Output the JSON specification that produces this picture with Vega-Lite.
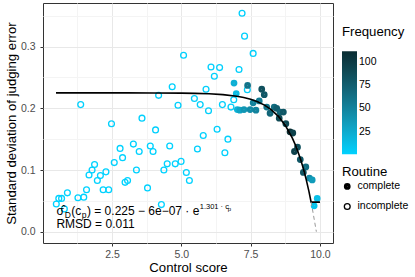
{
  "$schema": "https://vega.github.io/schema/vega-lite/v6.json",
  "width": 290,
  "height": 240,
  "autosize": {"type": "none"},
  "padding": {"left": 43, "top": 3, "right": 82, "bottom": 34},
  "background": "white",
  "config": {
    "font": "Liberation Sans",
    "view": {"stroke": "#333333", "strokeWidth": 1},
    "axis": {
      "domain": false,
      "labelFont": "Liberation Sans",
      "titleFont": "Liberation Sans",
      "labelFontSize": 10.5,
      "labelColor": "#4d4d4d",
      "titleFontSize": 13.2,
      "titleFontWeight": "normal",
      "titleColor": "black",
      "tickColor": "#333333",
      "tickSize": 3,
      "labelFlush": false,
      "labelOverlap": false
    },
    "legend": {
      "padding": 0,
      "titleFont": "Liberation Sans",
      "labelFont": "Liberation Sans",
      "titleFontSize": 13.2,
      "titleFontWeight": "normal",
      "titleColor": "black",
      "labelFontSize": 10.5,
      "labelColor": "black"
    }
  },
  "datasets": {
    "pts": [
      {"control": 1.37, "sd": 0.206, "freq": 2, "routine": "incomplete"},
      {"control": 2.48, "sd": 0.175, "freq": 2, "routine": "incomplete"},
      {"control": 3.58, "sd": 0.184, "freq": 2, "routine": "incomplete"},
      {"control": 4.07, "sd": 0.165, "freq": 2, "routine": "incomplete"},
      {"control": 4.18, "sd": 0.221, "freq": 2, "routine": "incomplete"},
      {"control": 4.67, "sd": 0.235, "freq": 2, "routine": "incomplete"},
      {"control": 4.88, "sd": 0.205, "freq": 2, "routine": "incomplete"},
      {"control": 5.08, "sd": 0.286, "freq": 2, "routine": "incomplete"},
      {"control": 5.47, "sd": 0.216, "freq": 3, "routine": "incomplete"},
      {"control": 5.68, "sd": 0.206, "freq": 3, "routine": "incomplete"},
      {"control": 5.79, "sd": 0.156, "freq": 2, "routine": "incomplete"},
      {"control": 5.89, "sd": 0.231, "freq": 3, "routine": "incomplete"},
      {"control": 5.98, "sd": 0.196, "freq": 3, "routine": "incomplete"},
      {"control": 6.07, "sd": 0.267, "freq": 2, "routine": "incomplete"},
      {"control": 6.19, "sd": 0.252, "freq": 2, "routine": "incomplete"},
      {"control": 6.38, "sd": 0.266, "freq": 2, "routine": "incomplete"},
      {"control": 7.19, "sd": 0.354, "freq": 2, "routine": "incomplete"},
      {"control": 7.28, "sd": 0.317, "freq": 2, "routine": "incomplete"},
      {"control": 7.59, "sd": 0.289, "freq": 2, "routine": "incomplete"},
      {"control": 7.08, "sd": 0.263, "freq": 3, "routine": "incomplete"},
      {"control": 7.38, "sd": 0.230, "freq": 4, "routine": "incomplete"},
      {"control": 6.89, "sd": 0.214, "freq": 4, "routine": "incomplete"},
      {"control": 6.48, "sd": 0.206, "freq": 3, "routine": "incomplete"},
      {"control": 6.79, "sd": 0.202, "freq": 4, "routine": "incomplete"},
      {"control": 6.29, "sd": 0.166, "freq": 2, "routine": "incomplete"},
      {"control": 6.68, "sd": 0.150, "freq": 2, "routine": "incomplete"},
      {"control": 6.57, "sd": 0.128, "freq": 2, "routine": "incomplete"},
      {"control": 5.58, "sd": 0.134, "freq": 2, "routine": "incomplete"},
      {"control": 3.27, "sd": 0.142, "freq": 1, "routine": "incomplete"},
      {"control": 3.88, "sd": 0.139, "freq": 1, "routine": "incomplete"},
      {"control": 4.58, "sd": 0.139, "freq": 1, "routine": "incomplete"},
      {"control": 2.79, "sd": 0.135, "freq": 1, "routine": "incomplete"},
      {"control": 3.48, "sd": 0.130, "freq": 1, "routine": "incomplete"},
      {"control": 3.98, "sd": 0.130, "freq": 1, "routine": "incomplete"},
      {"control": 2.88, "sd": 0.120, "freq": 1, "routine": "incomplete"},
      {"control": 2.58, "sd": 0.112, "freq": 1, "routine": "incomplete"},
      {"control": 1.87, "sd": 0.109, "freq": 1, "routine": "incomplete"},
      {"control": 1.78, "sd": 0.100, "freq": 1, "routine": "incomplete"},
      {"control": 1.67, "sd": 0.092, "freq": 1, "routine": "incomplete"},
      {"control": 2.08, "sd": 0.091, "freq": 1, "routine": "incomplete"},
      {"control": 1.97, "sd": 0.083, "freq": 1, "routine": "incomplete"},
      {"control": 2.28, "sd": 0.097, "freq": 1, "routine": "incomplete"},
      {"control": 3.38, "sd": 0.100, "freq": 1, "routine": "incomplete"},
      {"control": 4.37, "sd": 0.100, "freq": 1, "routine": "incomplete"},
      {"control": 4.49, "sd": 0.110, "freq": 1, "routine": "incomplete"},
      {"control": 4.78, "sd": 0.110, "freq": 1, "routine": "incomplete"},
      {"control": 4.99, "sd": 0.114, "freq": 1, "routine": "incomplete"},
      {"control": 5.18, "sd": 0.096, "freq": 1, "routine": "incomplete"},
      {"control": 5.29, "sd": 0.083, "freq": 1, "routine": "incomplete"},
      {"control": 3.06, "sd": 0.083, "freq": 1, "routine": "incomplete"},
      {"control": 2.97, "sd": 0.080, "freq": 1, "routine": "incomplete"},
      {"control": 2.18, "sd": 0.068, "freq": 1, "routine": "incomplete"},
      {"control": 2.38, "sd": 0.068, "freq": 1, "routine": "incomplete"},
      {"control": 3.78, "sd": 0.071, "freq": 1, "routine": "incomplete"},
      {"control": 1.58, "sd": 0.068, "freq": 1, "routine": "incomplete"},
      {"control": 1.48, "sd": 0.056, "freq": 1, "routine": "incomplete"},
      {"control": 1.27, "sd": 0.055, "freq": 1, "routine": "incomplete"},
      {"control": 0.89, "sd": 0.063, "freq": 1, "routine": "incomplete"},
      {"control": 0.49, "sd": 0.045, "freq": 1, "routine": "incomplete"},
      {"control": 0.58, "sd": 0.054, "freq": 1, "routine": "incomplete"},
      {"control": 0.68, "sd": 0.054, "freq": 1, "routine": "incomplete"},
      {"control": 0.78, "sd": 0.037, "freq": 1, "routine": "incomplete"},
      {"control": 4.28, "sd": 0.044, "freq": 1, "routine": "incomplete"},
      {"control": 6.90, "sd": 0.241, "freq": 22, "routine": "complete"},
      {"control": 7.39, "sd": 0.237, "freq": 60, "routine": "complete"},
      {"control": 6.98, "sd": 0.224, "freq": 15, "routine": "complete"},
      {"control": 7.02, "sd": 0.198, "freq": 20, "routine": "complete"},
      {"control": 7.11, "sd": 0.197, "freq": 30, "routine": "complete"},
      {"control": 7.26, "sd": 0.198, "freq": 38, "routine": "complete"},
      {"control": 7.48, "sd": 0.198, "freq": 45, "routine": "complete"},
      {"control": 7.69, "sd": 0.197, "freq": 50, "routine": "complete"},
      {"control": 7.59, "sd": 0.209, "freq": 50, "routine": "complete"},
      {"control": 7.81, "sd": 0.212, "freq": 55, "routine": "complete"},
      {"control": 7.90, "sd": 0.231, "freq": 85, "routine": "complete"},
      {"control": 7.99, "sd": 0.222, "freq": 80, "routine": "complete"},
      {"control": 8.08, "sd": 0.202, "freq": 60, "routine": "complete"},
      {"control": 8.20, "sd": 0.192, "freq": 70, "routine": "complete"},
      {"control": 8.35, "sd": 0.202, "freq": 65, "routine": "complete"},
      {"control": 8.44, "sd": 0.200, "freq": 75, "routine": "complete"},
      {"control": 8.56, "sd": 0.194, "freq": 70, "routine": "complete"},
      {"control": 8.68, "sd": 0.194, "freq": 80, "routine": "complete"},
      {"control": 8.53, "sd": 0.184, "freq": 90, "routine": "complete"},
      {"control": 8.77, "sd": 0.175, "freq": 90, "routine": "complete"},
      {"control": 8.92, "sd": 0.162, "freq": 111, "routine": "complete"},
      {"control": 9.02, "sd": 0.160, "freq": 95, "routine": "complete"},
      {"control": 9.19, "sd": 0.137, "freq": 85, "routine": "complete"},
      {"control": 9.08, "sd": 0.130, "freq": 95, "routine": "complete"},
      {"control": 9.29, "sd": 0.117, "freq": 80, "routine": "complete"},
      {"control": 9.49, "sd": 0.105, "freq": 65, "routine": "complete"},
      {"control": 9.40, "sd": 0.096, "freq": 80, "routine": "complete"},
      {"control": 9.62, "sd": 0.087, "freq": 45, "routine": "complete"},
      {"control": 9.72, "sd": 0.084, "freq": 35, "routine": "complete"},
      {"control": 9.90, "sd": 0.054, "freq": 12, "routine": "complete"},
      {"control": 9.79, "sd": 0.042, "freq": 10, "routine": "complete"}
    ],
    "fit": [
      {"control": 0.48, "sd": 0.225},
      {"control": 1, "sd": 0.225},
      {"control": 2, "sd": 0.225},
      {"control": 3, "sd": 0.22497},
      {"control": 4, "sd": 0.22489},
      {"control": 5, "sd": 0.2246},
      {"control": 5.5, "sd": 0.2242},
      {"control": 6, "sd": 0.2235},
      {"control": 6.5, "sd": 0.2222},
      {"control": 7, "sd": 0.2196},
      {"control": 7.25, "sd": 0.2175},
      {"control": 7.5, "sd": 0.2146},
      {"control": 7.75, "sd": 0.2107},
      {"control": 8, "sd": 0.2052},
      {"control": 8.25, "sd": 0.1975},
      {"control": 8.5, "sd": 0.187},
      {"control": 8.75, "sd": 0.1723},
      {"control": 9, "sd": 0.1521},
      {"control": 9.1, "sd": 0.142},
      {"control": 9.2, "sd": 0.1304},
      {"control": 9.3, "sd": 0.1173},
      {"control": 9.4, "sd": 0.1024},
      {"control": 9.5, "sd": 0.0853},
      {"control": 9.6, "sd": 0.0659},
      {"control": 9.68, "sd": 0.048},
      {"control": 10.0, "sd": 0.048}
    ],
    "ext": [
      {"control": 9.68, "sd": 0.048},
      {"control": 9.75, "sd": 0.031},
      {"control": 9.8, "sd": 0.018},
      {"control": 9.87, "sd": 0.0}
    ],
    "notes": [
      {"control": 0.495, "sd": 0.027, "line": "formula"},
      {"control": 0.495, "sd": 0.0055, "line": "rmsd"}
    ]
  },
  "encoding": {
    "x": {
      "field": "control", "type": "quantitative",
      "scale": {"domain": [0.01, 10.47], "nice": false, "zero": false},
      "axis": {
        "title": "Control score",
        "values": [1.25, 2.5, 3.75, 5, 6.25, 7.5, 8.75, 10],
        "labelExpr": "datum.value % 2.5 === 0 ? format(datum.value, '.1f') : ''",
        "gridColor": {"condition": {"test": "datum.value % 2.5 !== 0", "value": "#f4f4f4"}, "value": "#e8e8e8"},
        "tickOpacity": {"condition": {"test": "datum.value % 2.5 !== 0", "value": 0}, "value": 1},
        "labelPadding": 3,
        "titlePadding": 2
      }
    },
    "y": {
      "field": "sd", "type": "quantitative",
      "scale": {"domain": [-0.0183, 0.3707], "nice": false, "zero": false},
      "axis": {
        "title": "Standard deviation of judging error",
        "values": [0, 0.05, 0.1, 0.15, 0.2, 0.25, 0.3, 0.35],
        "labelExpr": "abs(datum.value * 10 - round(datum.value * 10)) < 0.001 ? format(datum.value, '.1f') : ''",
        "gridColor": {"condition": {"test": "abs(datum.value * 10 - round(datum.value * 10)) > 0.001", "value": "#f4f4f4"}, "value": "#e8e8e8"},
        "tickOpacity": {"condition": {"test": "abs(datum.value * 10 - round(datum.value * 10)) > 0.001", "value": 0}, "value": 1},
        "labelPadding": 5,
        "titlePadding": 2
      }
    }
  },
  "layer": [
    {
      "data": {"name": "pts"},
      "mark": {"type": "point", "shape": "circle", "filled": false, "opacity": 1},
      "encoding": {
        "color": {
          "field": "freq", "type": "quantitative",
          "scale": {"domain": [1, 111], "range": ["#00D2FF", "#0A2D32"], "interpolate": "lab"},
          "legend": {"title": "Frequency", "orient": "none", "legendX": 299, "legendY": 23, "direction": "vertical", "gradientLength": 103, "gradientThickness": 15, "values": [25, 50, 75, 100], "labelOffset": 2, "titlePadding": 12, "gradientStrokeWidth": 0}
        },
        "size": {
          "field": "routine", "type": "nominal",
          "scale": {"type": "ordinal", "domain": ["complete", "incomplete"], "range": [10, 34]},
          "legend": {
            "title": "Routine", "orient": "none", "legendX": 299, "legendY": 163,
            "symbolType": "circle", "symbolOffset": 0, "labelOffset": 5, "rowPadding": 4, "titlePadding": 2,
            "symbolStrokeColor": "#000000", "symbolFillColor": "transparent",
            "encode": {"symbols": {"update": {"stroke": {"value": "#000000"}, "fill": {"value": "transparent"}, "opacity": {"value": 1}}}}
          }
        },
        "strokeWidth": {
          "field": "routine", "type": "nominal",
          "scale": {"type": "ordinal", "domain": ["complete", "incomplete"], "range": [3.6, 1.3]},
          "legend": {
            "title": "Routine", "orient": "none", "legendX": 299, "legendY": 163,
            "symbolType": "circle", "symbolOffset": 0, "labelOffset": 5, "rowPadding": 4, "titlePadding": 2,
            "symbolStrokeColor": "#000000", "symbolFillColor": "transparent",
            "encode": {"symbols": {"update": {"stroke": {"value": "#000000"}, "fill": {"value": "transparent"}, "opacity": {"value": 1}}}}
          }
        }
      }
    },
    {
      "data": {"name": "fit"},
      "mark": {"type": "line", "color": "black", "strokeWidth": 1.6},
      "encoding": {}
    },
    {
      "data": {"name": "ext"},
      "mark": {"type": "line", "color": "#999999", "strokeWidth": 1, "strokeDash": [4, 3]},
      "encoding": {}
    },
    {
      "data": {"name": "notes"},
      "transform": [{"filter": "datum.line === 'formula'"}],
      "mark": {"type": "text", "text": "σ̂", "align": "left", "baseline": "alphabetic", "fontSize": 12, "color": "black", "dx": 0},
      "encoding": {}
    },
    {
      "data": {"name": "notes"},
      "transform": [{"filter": "datum.line === 'formula'"}],
      "mark": {"type": "text", "text": "D", "align": "left", "baseline": "alphabetic", "fontSize": 8.5, "color": "black", "dx": 8.2, "dy": 3},
      "encoding": {}
    },
    {
      "data": {"name": "notes"},
      "transform": [{"filter": "datum.line === 'formula'"}],
      "mark": {"type": "text", "text": "(c", "align": "left", "baseline": "alphabetic", "fontSize": 12, "color": "black", "dx": 14.7},
      "encoding": {}
    },
    {
      "data": {"name": "notes"},
      "transform": [{"filter": "datum.line === 'formula'"}],
      "mark": {"type": "text", "text": "p", "align": "left", "baseline": "alphabetic", "fontSize": 8.5, "color": "black", "dx": 25.2, "dy": 3},
      "encoding": {}
    },
    {
      "data": {"name": "notes"},
      "transform": [{"filter": "datum.line === 'formula'"}],
      "mark": {"type": "text", "text": ") = 0.225 − 6e−07 · e", "align": "left", "baseline": "alphabetic", "fontSize": 12, "color": "black", "dx": 30.5},
      "encoding": {}
    },
    {
      "data": {"name": "notes"},
      "transform": [{"filter": "datum.line === 'formula'"}],
      "mark": {"type": "text", "text": "1.301 · c", "align": "left", "baseline": "alphabetic", "fontSize": 7.5, "color": "black", "dx": 143.3, "dy": -6},
      "encoding": {}
    },
    {
      "data": {"name": "notes"},
      "transform": [{"filter": "datum.line === 'formula'"}],
      "mark": {"type": "text", "text": "p", "align": "left", "baseline": "alphabetic", "fontSize": 6, "color": "black", "dx": 171.3, "dy": -4},
      "encoding": {}
    },
    {
      "data": {"name": "notes"},
      "transform": [{"filter": "datum.line === 'rmsd'"}],
      "mark": {"type": "text", "text": "RMSD = 0.011", "align": "left", "baseline": "alphabetic", "fontSize": 12, "color": "black"},
      "encoding": {}
    }
  ]
}
